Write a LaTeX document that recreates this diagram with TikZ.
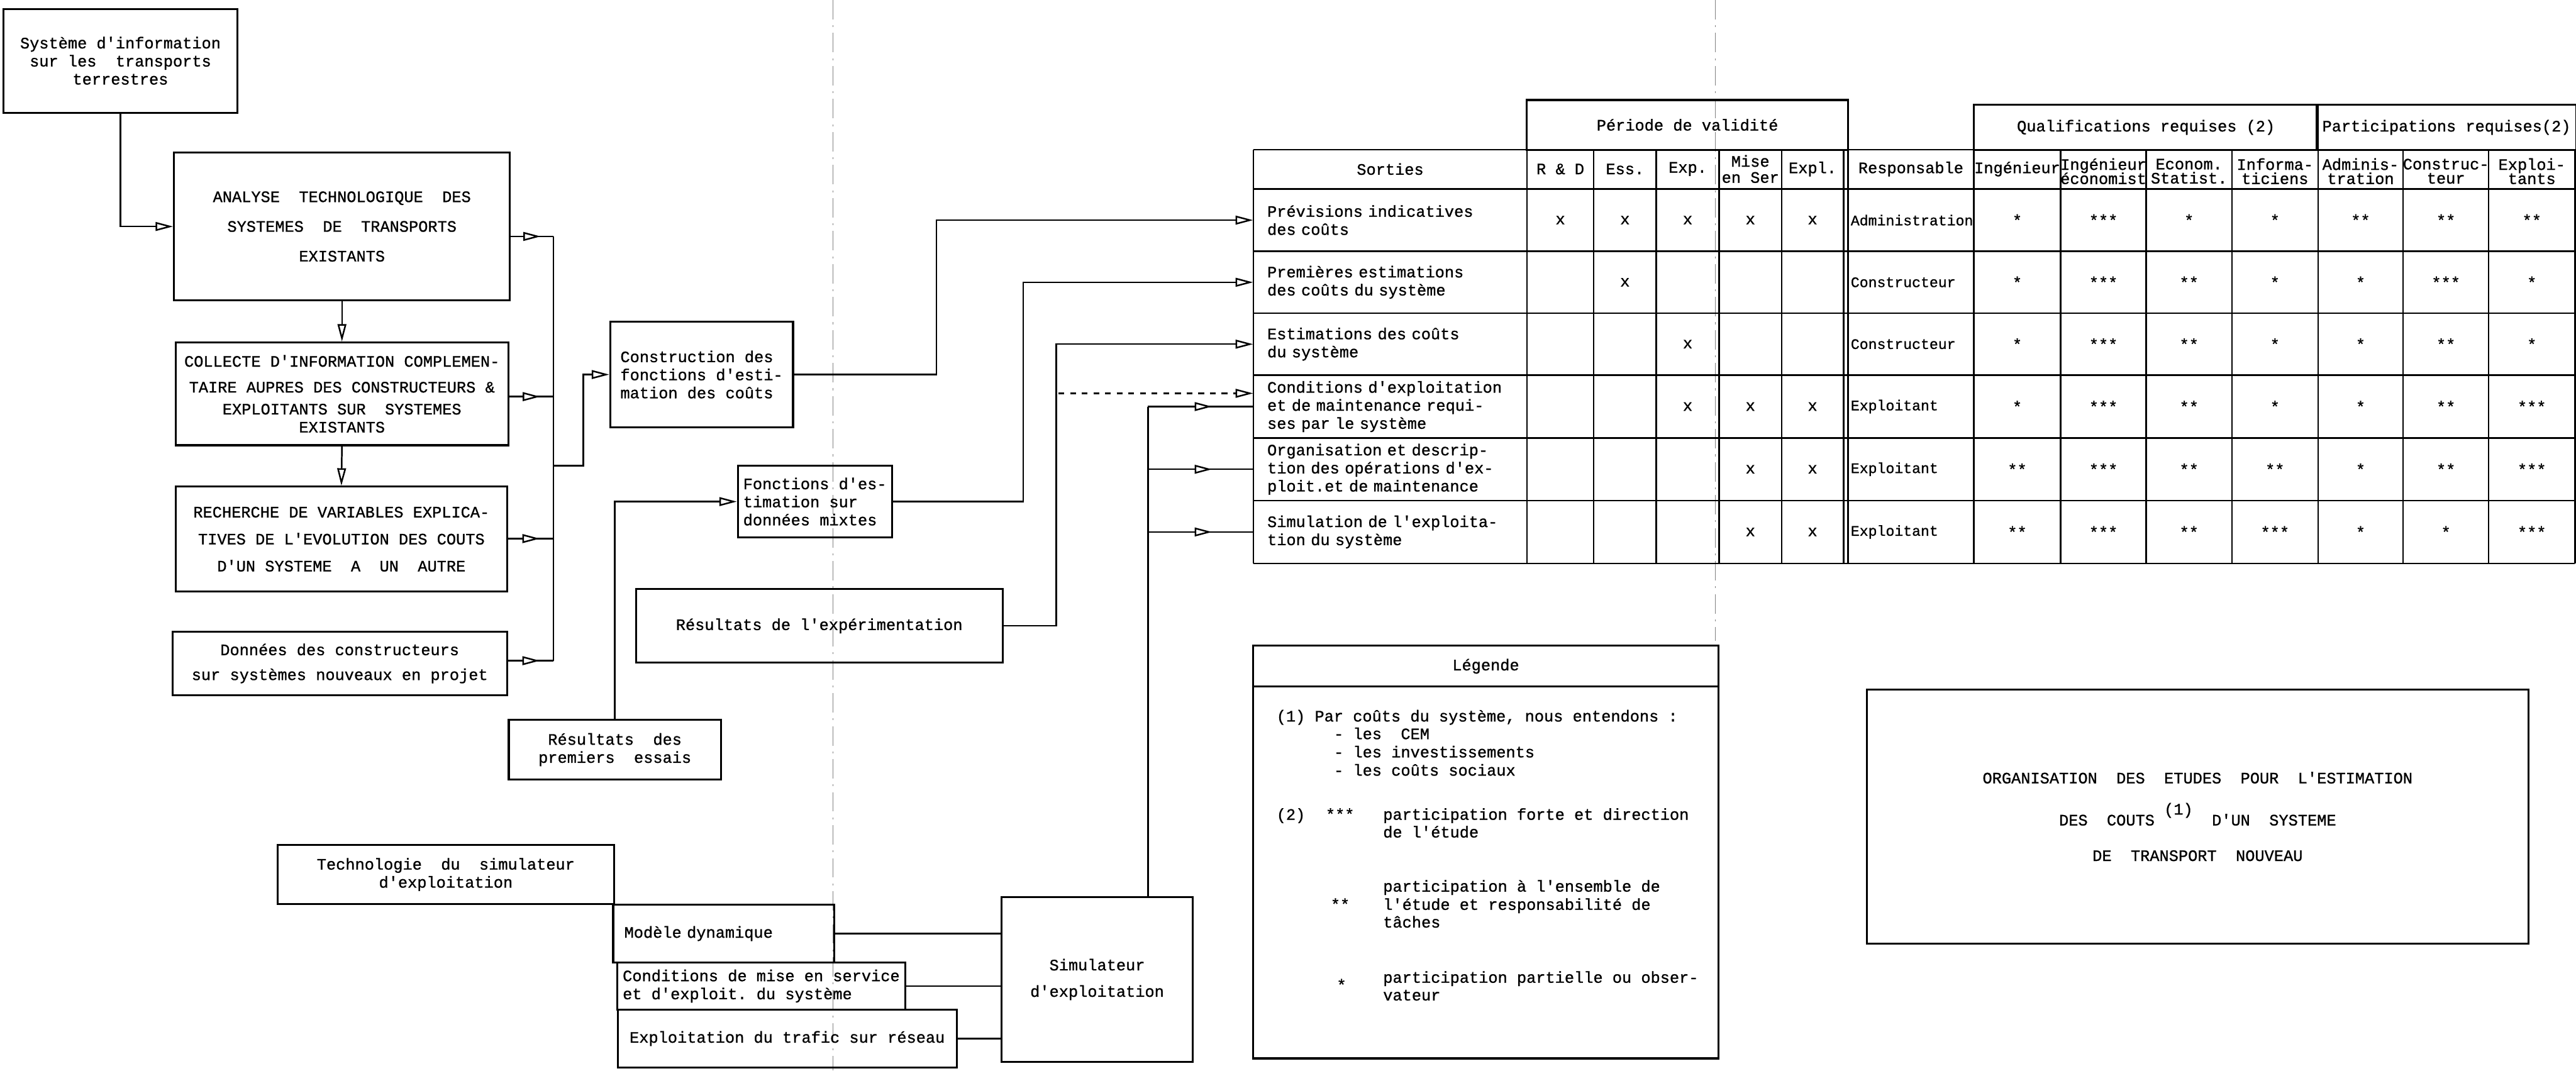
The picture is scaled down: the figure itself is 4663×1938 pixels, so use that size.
\documentclass[tikz,border=0pt]{standalone}
\usepackage{fontspec}
\setmonofont{Liberation Mono}[FakeBold=1]
\usepackage{tikz}
\usetikzlibrary{arrows.meta,decorations.markings}
\newcommand{\typew}{\ttfamily\fontsize{8.2pt}{9.3pt}\selectfont}
\newcommand{\typesm}{\ttfamily\fontsize{7.5pt}{9pt}\selectfont}

\begin{document}
\begin{tikzpicture}[x=0.1mm, y=-0.1mm, every node/.style={font=\typew}, box/.style={draw,line width=1pt,align=center,inner sep=1mm}, cell/.style={inner sep=1pt,align=center}, wire/.style={line width=0.8pt}, grid/.style={line width=0.8pt}, arr/.style={-{Triangle[length=9pt,width=4.5pt,fill=white]},line width=0.8pt}, midarr/.style={line width=0.8pt,postaction={decorate},decoration={markings,mark=at position #1 with {\arrow{Triangle[length=9pt,width=4.5pt,fill=white]}}}}, midarr/.default=0.7, fold/.style={gray,line width=0.4pt,dash pattern=on 10pt off 3pt on 1pt off 3pt}]
\useasboundingbox (0,0) rectangle (4663,1938);
% fold marks of the scan
\draw[fold] (1508,0) -- (1508,1938);
\draw[fold] (3105,0) -- (3105,1160);

% left column
\node[box,minimum width=4.24cm,minimum height=1.88cm] (systeme) at (218,110) {Système d'information\\sur les~ transports\\terrestres};
\node[box,minimum width=6.08cm,minimum height=2.68cm] (analyse) at (619,410) {ANALYSE~ TECHNOLOGIQUE~ DES\\[6pt]SYSTEMES~ DE~ TRANSPORTS\\[6pt]EXISTANTS};
\node[box,minimum width=6.02cm,minimum height=1.86cm] (collecte) at (619,713) {COLLECTE D'INFORMATION COMPLEMEN-\\[4pt]TAIRE AUPRES DES CONSTRUCTEURS \&\\[2pt]EXPLOITANTS SUR~ SYSTEMES\\EXISTANTS};
\node[box,minimum width=6.0cm,minimum height=1.9cm] (recherche) at (618,976) {RECHERCHE DE VARIABLES EXPLICA-\\[4.6pt]TIVES DE L'EVOLUTION DES COUTS\\[4.6pt]D'UN SYSTEME~ A~ UN~ AUTRE};
\node[box,minimum width=6.06cm,minimum height=1.15cm] (donnees) at (615,1201) {Données des constructeurs\\[3.5pt]sur systèmes nouveaux en projet};

% middle column
\node[box,minimum width=3.31cm,minimum height=1.92cm,align=left] (construction) at (1270,678) {Construction des\\fonctions d'esti-\\mation des coûts};
\node[box,minimum width=2.79cm,minimum height=1.29cm,align=left,inner sep=0.5mm] (fonctions) at (1475,908) {Fonctions d'es-\\timation sur\\données mixtes};
\node[box,minimum width=6.64cm,minimum height=1.33cm] (experim) at (1483,1133) {Résultats de l'expérimentation};
\node[box,minimum width=3.84cm,minimum height=1.09cm] (essais) at (1113,1357) {Résultats~ des\\premiers~ essais};

% simulator block
\node[box,minimum width=6.09cm,minimum height=1.07cm] (techno) at (807,1583) {Technologie~ du~ simulateur\\d'exploitation};
\node[box,minimum width=4.0cm,minimum height=1.05cm,text width=3.6cm,align=left] (modele) at (1310,1690) {Modèle dynamique};
\node[box,minimum width=5.2cm,minimum height=0.86cm,align=left] (condit) at (1378,1785) {Conditions de mise en service\\et d'exploit. du système};
\node[box,minimum width=6.14cm,minimum height=1.05cm,align=left] (exploit) at (1425,1880) {Exploitation du trafic sur réseau};
\node[box,minimum width=3.47cm,minimum height=2.98cm] (simul) at (1986,1773) {Simulateur\\[4.3pt]d'exploitation};

% table
\node[box,minimum width=5.81cm,minimum height=0.9cm] (periode) at (3054.5,226) {Période de validité};
\node[box,minimum width=6.23cm,minimum height=0.81cm] (qualif) at (3884.5,230.5) {Qualifications requises (2)};
\node[box,minimum width=4.65cm,minimum height=0.81cm] (partic) at (4428.5,230.5) {Participations requises(2)};
\foreach \x in {2269,2764,2885,2998,3112,3225,3337,3345,3573,3730,3885,4040,4196,4350,4505,4661}
  \draw[grid] (\x,271) -- (\x,1020);
\foreach \y in {271,342,455,567,679,793,906,1020}
  \draw[grid] (2269,\y) -- (4661,\y);
\foreach \x/\t [count=\c] in {2516.5/Sorties, 2824.5/{R \& D}, 2941.5/Ess., 3055/Exp., 3168.5/{Mise\\[-1pt]en Ser}, 3281/Expl., 3459/Responsable, 3651.5/Ingénieur}
  \node[cell] (h\c) at (\x,306) {\t};
\foreach \x/\t [count=\c from 9] in {3807.5/{Ingénieur\\[-2pt]économist}, 3962.5/{Econom.\\[-2pt]Statist.}, 4118/{Informa-\\[-2pt]ticiens}, 4273/{Adminis-\\[-2pt]tration}, 4427.5/{Construc-\\[-2pt]teur}, 4583/{Exploi-\\[-2pt]tants}}
  \node[cell] (h\c) at (\x,310) {\t};
\foreach \yc/\t [count=\r] in {398.5/{Prévisions indicatives\\des coûts}, 511/{Premières estimations\\des coûts du système}, 623/{Estimations des coûts\\du système}, 736/{Conditions d'exploitation\\et de maintenance requi-\\ses par le système}, 849.5/{Organisation et descrip-\\tion des opérations d'ex-\\ploit.et de maintenance}, 963/{Simulation de l'exploita-\\tion du système}}
  \node[cell,text width=4.45cm,align=left,minimum width=4.95cm,minimum height=1.1cm] (s\r) at (2516.5,\yc) {\t};
\foreach \yc/\t [count=\r] in {398.5/Administration, 511/Constructeur, 623/Constructeur, 736/Exploitant, 849.5/Exploitant, 963/Exploitant}
  \node[cell,anchor=west,font=\typesm] (resp\r) at (3346,\yc) {\t};
\foreach \yc/\marks [count=\r] in {
  398.5/{2824.5/x,2941.5/x,3055/x,3168.5/x,3281/x,3651.5/*,3807.5/***,3962.5/*,4118/*,4273/**,4427.5/**,4583/**},
  511/{2941.5/x,3651.5/*,3807.5/***,3962.5/**,4118/*,4273/*,4427.5/***,4583/*},
  623/{3055/x,3651.5/*,3807.5/***,3962.5/**,4118/*,4273/*,4427.5/**,4583/*},
  736/{3055/x,3168.5/x,3281/x,3651.5/*,3807.5/***,3962.5/**,4118/*,4273/*,4427.5/**,4583/***},
  849.5/{3168.5/x,3281/x,3651.5/**,3807.5/***,3962.5/**,4118/**,4273/*,4427.5/**,4583/***},
  963/{3168.5/x,3281/x,3651.5/**,3807.5/***,3962.5/**,4118/***,4273/*,4427.5/*,4583/***}}
  \foreach \x/\t [count=\c] in \marks
    \node[cell] (m\r-\c) at (\x,\yc) {\t};

% legend and title
\node[box,minimum width=8.43cm,minimum height=0.74cm] (leghead) at (2689.5,1206) {Légende};
\node[box,minimum width=8.43cm,minimum height=6.73cm] (legbody) at (2689.5,1579.5) {};
\foreach \x/\y/\t [count=\i] in {2310/1306/{(1) Par coûts du système, nous entendons :}, 2414/1338/{- les~ CEM}, 2414/1371/{- les investissements}, 2414/1404/{- les coûts sociaux}, 2310/1484/{(2)}, 2399/1484/{***}, 2503/1484/{participation forte et direction}, 2503/1516/{de l'étude}, 2503/1614/{participation à l'ensemble de}, 2408/1647/{**}, 2503/1647/{l'étude et responsabilité de}, 2503/1679/{tâches}, 2419/1793/{*}, 2503/1779/{participation partielle ou obser-}, 2503/1811/{vateur}}
  \node[anchor=base west,inner sep=0pt] (leg\i) at (\x,\y) {\t};
\node[box,minimum width=11.98cm,minimum height=4.6cm] (titre) at (3978,1478) {ORGANISATION~ DES~ ETUDES~ POUR~ L'ESTIMATION\\[9pt]DES~ COUTS \raisebox{1.3ex}{(1)}~ D'UN~ SYSTEME\\[9pt]DE~ TRANSPORT~ NOUVEAU};

% connectors on the left
\coordinate (b1) at (1002,428);
\coordinate (b2) at (1002,718);
\coordinate (b3) at (1002,975);
\coordinate (b4) at (1002,1196);
\coordinate (bj) at (1002,843);
\draw[arr] (systeme.south) |- (analyse.west);
\draw[arr] (analyse.south) -- (collecte.north);
\draw[arr] (collecte.south) -- (recherche.north);
\draw[midarr] (analyse.east |- b1) -- (b1);
\draw[midarr] (collecte.east |- b2) -- (b2);
\draw[midarr] (recherche.east |- b3) -- (b3);
\draw[midarr] (donnees.east |- b4) -- (b4);
\draw[wire] (b1) -- (b4);
\draw[arr] (bj) -- ++(54,0) |- (construction.west);

% connectors to the table
\draw[arr] (construction.east) -- ++(258,0) |- (s1.west);
\draw[arr] (fonctions.east) -- ++(236,0) |- (s2.west);
\draw[arr] (experim.east) -- ++(95,0) |- (s3.west);
\coordinate (dsh) at (1916,712);
\draw[arr,dashed] (dsh) -- (dsh -| s4.west);
\draw[arr] (essais.north) |- (fonctions.west);

% simulator
\coordinate (sb) at (2078,736);
\draw[wire] (simul.north -| sb) -- (sb);
\draw[midarr=0.61] (sb) -- (s4.west);
\draw[midarr=0.61] (sb |- s5.west) -- (s5.west);
\draw[midarr=0.61] (sb |- s6.west) -- (s6.west);
\draw[wire] (modele.east) -- (modele.east -| simul.west);
\draw[wire] (condit.east) -- (condit.east -| simul.west);
\draw[wire] (exploit.east) -- (exploit.east -| simul.west);
\end{tikzpicture}
\end{document}
